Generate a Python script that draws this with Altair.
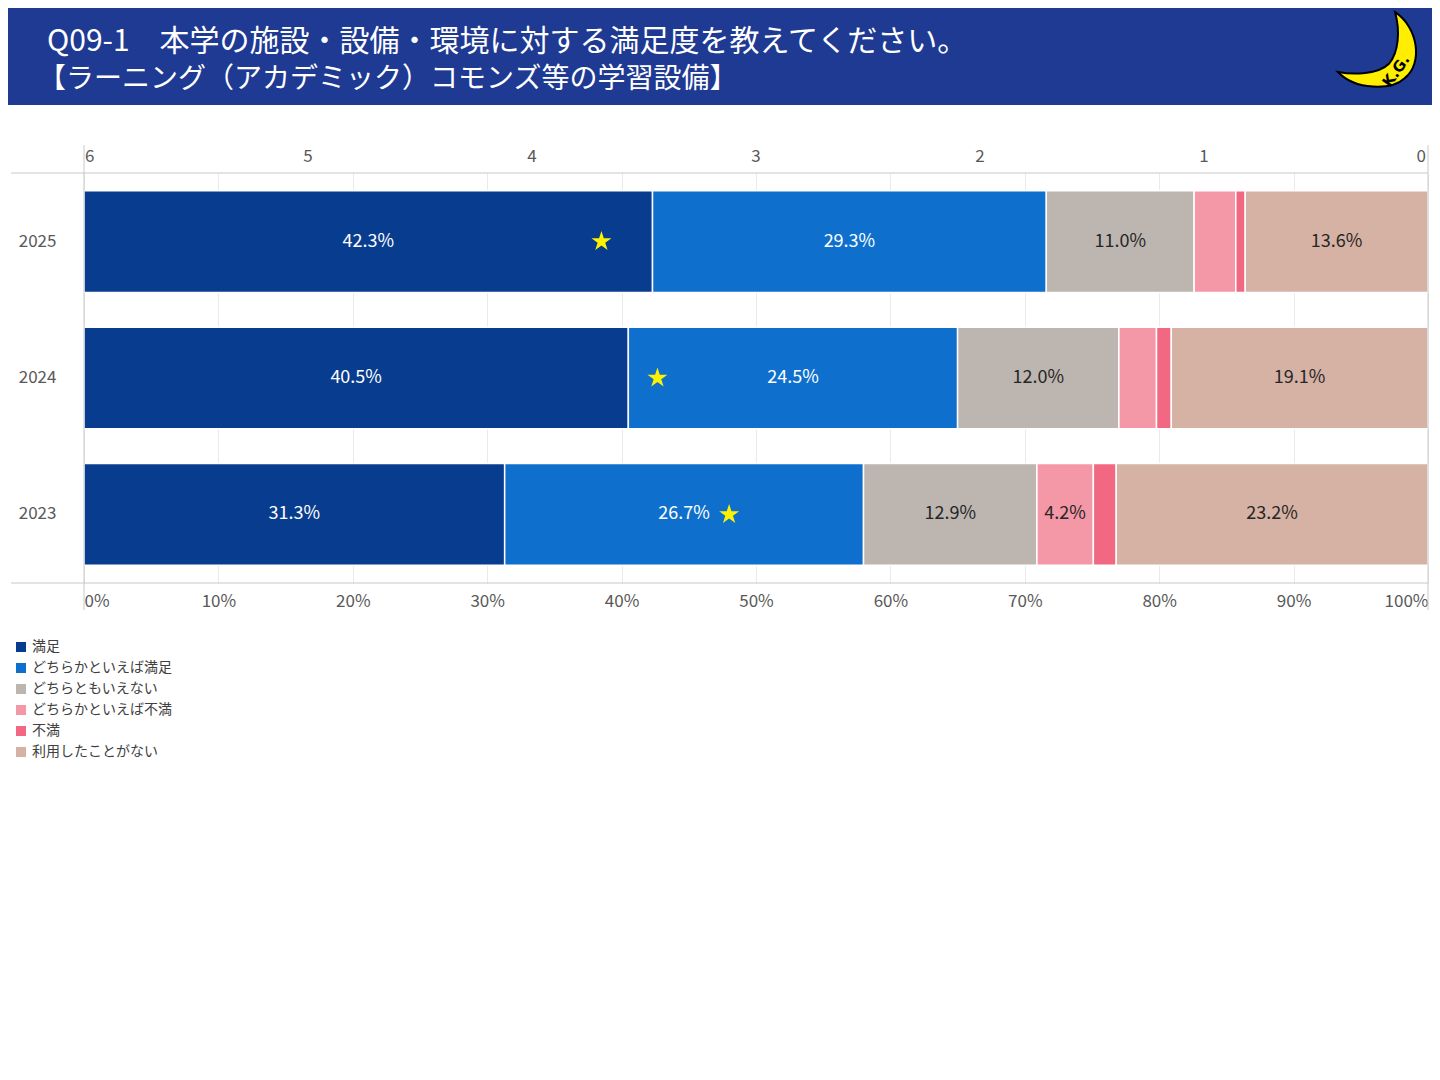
import altair as alt
import pandas as pd

# ---------------- data ----------------
years = ["2025", "2024", "2023"]
categories = ["満足", "どちらかといえば満足", "どちらともいえない",
              "どちらかといえば不満", "不満", "利用したことがない"]
values_2025 = [42.3, 29.3, 11.0, 3.1, 0.7, 13.6]
values_2024 = [40.5, 24.5, 12.0, 2.8, 1.1, 19.1]
values_2023 = [31.3, 26.7, 12.9, 4.2, 1.7, 23.2]
mean_scores = [3.69, 3.44, 3.12]          # star markers (top axis, 6 -> 0)
pct_ticks = [0, 10, 20, 30, 40, 50, 60, 70, 80, 90, 100]
score_ticks = [6, 5, 4, 3, 2, 1, 0]
colors = ["#083C8E", "#0E6FCD", "#BDB5B0", "#F498A7", "#F26882", "#D5B2A4"]
title_line1 = "Q09-1　本学の施設・設備・環境に対する満足度を教えてください。"
title_line2 = "【ラーニング（アカデミック）コモンズ等の学習設備】"
logo_text = "K.G."

FONT = "Noto Sans CJK JP"
HEADER = "#1F3A93"
LABEL_GRAY = "#595959"
W, H = 1344, 410
SCORE_MAX = 6

rows = []
for yr, vals in zip(years, [values_2025, values_2024, values_2023]):
    for i, (c, v) in enumerate(zip(categories, vals)):
        rows.append({"year": yr, "category": c, "value": v, "order": i})
df = pd.DataFrame(rows)
df_star = pd.DataFrame({"year": years, "score": mean_scores})
df_score_ticks = pd.DataFrame({"tick": score_ticks})
one = pd.DataFrame({"k": [0]})

yscale = alt.Scale(paddingInner=0.255, paddingOuter=0.13)
yaxis = alt.Axis(title=None, domain=False, ticks=False, labelFontSize=17,
                 labelColor=LABEL_GRAY, labelPadding=28, labelFont=FONT)
xscale = alt.Scale(domain=[0, 100], nice=False, zero=True)
xaxis = alt.Axis(orient="bottom", values=pct_ticks, labelExpr="datum.value + '%'",
                 title=None, grid=True, gridColor="#EAEAEA", domain=False, ticks=False,
                 labelFlush=True, labelFontSize=17, labelColor=LABEL_GRAY,
                 labelPadding=10, labelFont=FONT)

stacked = alt.Chart(df).transform_stack(
    stack="value", groupby=["year"], sort=[alt.SortField("order", "ascending")],
    as_=["x0", "x1"])

bars = stacked.mark_bar(stroke="white", strokeWidth=1.5).encode(
    x=alt.X("x0:Q", scale=xscale, axis=xaxis, title=None),
    x2="x1:Q",
    y=alt.Y("year:N", sort=years, scale=yscale, axis=yaxis, title=None),
    color=alt.Color("category:N", sort=categories,
                    scale=alt.Scale(domain=categories, range=colors),
                    legend=alt.Legend(orient="none", legendX=-70, legendY=467, title=None,
                                      symbolType="square", symbolSize=100,
                                      symbolStrokeWidth=0, labelFontSize=14,
                                      labelFont=FONT, labelColor="#404040",
                                      rowPadding=7, labelOffset=4, padding=0,
                                      direction="vertical", labelLimit=400)),
)

labels = stacked.transform_calculate(
    mid="(datum.x0 + datum.x1) / 2",
    label="format(datum.value, '.1f') + '%'",
).transform_filter("datum.value >= 4").mark_text(
    fontSize=18, font=FONT, baseline="middle", align="center").encode(
    x=alt.X("mid:Q", scale=xscale, axis=xaxis, title=None),
    y=alt.Y("year:N", sort=years, scale=yscale, axis=yaxis, title=None),
    text="label:N",
    color=alt.condition("datum.order < 2", alt.value("white"), alt.value("#262626")),
)

# stars: mean score on a reversed 6 -> 0 scale that spans the same width as 0 -> 100 %
STAR = ("M0,-1 L0.2245,-0.309 L0.951,-0.309 L0.363,0.118 L0.588,0.809 L0,0.382 "
        "L-0.588,0.809 L-0.363,0.118 L-0.951,-0.309 L-0.2245,-0.309 Z")
stars = alt.Chart(df_star).transform_calculate(
    pos=f"({SCORE_MAX} - datum.score) / {SCORE_MAX} * 100"
).mark_point(shape=STAR, filled=True, size=440, fill="#FFF200", strokeWidth=0,
             fillOpacity=1, opacity=1).encode(
    x=alt.X("pos:Q", scale=xscale, axis=xaxis, title=None),
    y=alt.Y("year:N", sort=years, scale=yscale, axis=yaxis, title=None),
)

# top (score) axis labels placed through the shared x scale
score_base = alt.Chart(df_score_ticks).transform_calculate(
    pos=f"({SCORE_MAX} - datum.tick) / {SCORE_MAX} * 100",
    lab="toString(datum.tick)")


def score_labels(filt, align, dx):
    return score_base.transform_filter(filt).mark_text(
        align=align, baseline="middle", fontSize=17, font=FONT, color=LABEL_GRAY,
        dx=dx).encode(
        x=alt.X("pos:Q", scale=xscale, axis=xaxis, title=None),
        y=alt.value(-16),
        text="lab:N")


top_left = score_labels(f"datum.tick == {SCORE_MAX}", "left", 1)
top_mid = score_labels(f"datum.tick < {SCORE_MAX} && datum.tick > 0", "center", 0)
top_right = score_labels("datum.tick == 0", "right", -2)

# ---------------- decoration ----------------
header = alt.Chart(one).mark_rect(color=HEADER).encode(
    x=alt.value(-76), x2=alt.value(W + 4), y=alt.value(-165), y2=alt.value(-68))
t1 = alt.Chart(one).mark_text(align="left", baseline="middle", fontSize=30, font=FONT,
                              color="white", text=title_line1).encode(
    x=alt.value(-37), y=alt.value(-131))
t2 = alt.Chart(one).mark_text(align="left", baseline="middle", fontSize=28, font=FONT,
                              color="white", text=title_line2).encode(
    x=alt.value(-46), y=alt.value(-93))

crescent = ("M 0.38 -0.84 C 0.9 -0.5 1.0 0.3 0.6 0.62 C 0.3 0.9 -0.5 0.9 -0.89 0.49 "
            "C -0.55 0.55 0.0 0.55 0.25 0.3 C 0.45 0.05 0.5 -0.4 0.38 -0.84 Z")
moon = alt.Chart(one).mark_point(shape=crescent, filled=True, fill="#FFEE00",
                                 stroke="black", strokeWidth=2, size=8100,
                                 fillOpacity=1, strokeOpacity=1, opacity=1).encode(
    x=alt.value(1378 - 84), y=alt.value(50 - 173))
kg = alt.Chart(one).mark_text(text=logo_text, angle=305, fontSize=15, fontWeight="bold",
                              color="black", font="DejaVu Sans").encode(
    x=alt.value(1396 - 84), y=alt.value(71 - 173))

GRAY = "#C8C8C8"
hline_top = alt.Chart(one).mark_rule(color=GRAY, strokeWidth=1).encode(
    x=alt.value(-73), x2=alt.value(W), y=alt.value(0))
hline_bot = alt.Chart(one).mark_rule(color=GRAY, strokeWidth=1).encode(
    x=alt.value(-73), x2=alt.value(W), y=alt.value(H))
vline_l = alt.Chart(one).mark_rule(color=GRAY, strokeWidth=1).encode(
    x=alt.value(0), y=alt.value(-28), y2=alt.value(H + 27))
vline_r = alt.Chart(one).mark_rule(color=GRAY, strokeWidth=1).encode(
    x=alt.value(W), y=alt.value(-28), y2=alt.value(H + 27))

chart = alt.layer(
    bars, labels, stars, top_left, top_mid, top_right,
    header, t1, t2, moon, kg, hline_top, hline_bot, vline_l, vline_r,
).properties(
    width=W, height=H,
    padding={"left": 76, "top": 165, "right": 4, "bottom": 200},
    autosize=alt.AutoSizeParams(type="none"),
).configure_view(stroke=None)

chart.save("out.html", embed_options={"renderer": "svg", "actions": False})
